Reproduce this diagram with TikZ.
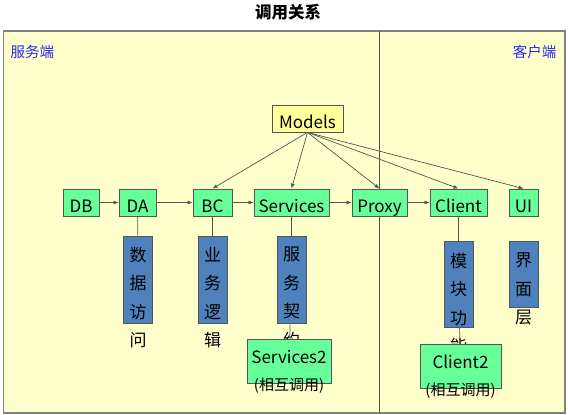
\documentclass[tikz,border=0pt]{standalone}
\usepackage{fontspec}
\setmainfont{Noto Sans CJK SC}
\usetikzlibrary{
    positioning,
    arrows.meta,
    calc
}
\definecolor{frameYellow}{RGB}{255, 255, 204}
\definecolor{modelYellow}{RGB}{255, 255, 153}
\definecolor{layerGreen}{RGB}{102, 255, 153}
\definecolor{noteBlue}{RGB}{79, 129, 189}
\definecolor{sideBlue}{RGB}{40, 40, 240}
\definecolor{lineGray}{RGB}{85, 85, 85}

\begin{document}
\begin{tikzpicture}[x=1pt, y=-1pt,
    layer/.style={draw=lineGray, fill=layerGreen, line width=0.8pt, inner sep=0pt,
        minimum height=27pt, text height=19.5pt, text depth=0pt, font=\fontsize{17}{18}\selectfont},
    note/.style={draw=lineGray, fill=noteBlue, line width=0.8pt, inner sep=0pt, minimum width=29pt},
    noteText/.style={inner sep=0pt, align=center, font=\fontsize{17}{28.5}\selectfont},
    link/.style={draw=lineGray, line width=0.7pt},
    call/.style={link, -{Latex[length=5pt, width=4pt]}}
]
        \useasboundingbox (0,0) rectangle (568,415);
        % 标题与背景
        \node[font=\bfseries\fontsize{16.5}{18}\selectfont] (title) at (288,12) {调用关系};
        \draw[fill=frameYellow, draw=gray, line width=1.2pt] (3.5,31) rectangle (565,413);
        \draw[lineGray, line width=1pt] (379.5,31) -- (379.5,413);
        \node[sideBlue, anchor=west, font=\fontsize{14.5}{16}\selectfont] (server) at (7,52) {服务端};
        \node[sideBlue, anchor=east, font=\fontsize{14.5}{16}\selectfont] (client) at (560,52) {客户端};
        
        % 各层
        \node[layer, fill=modelYellow, minimum width=71pt] (models) at (307.5,118.5) {Models};
        \node[layer, minimum width=36pt] (db) at (81,202.5) {DB};
        \node[layer, minimum width=37pt] (da) at (137.5,202.5) {DA};
        \node[layer, minimum width=39pt] (bc) at (212.5,202.5) {BC};
        \node[layer, minimum width=75pt] (services) at (291.5,202.5) {Services};
        \node[layer, minimum width=55pt] (proxy) at (379.5,202.5) {Proxy};
        \node[layer, minimum width=57pt] (clientLayer) at (458.5,202.5) {Client};
        \node[layer, minimum width=29pt] (ui) at (523.5,202.5) {UI};
        
        % 说明
        \node[note, minimum height=87pt] (daNote) at (138,279.5) {};
        \node[note, minimum height=87pt] (bcNote) at (212.5,279.5) {};
        \node[note, minimum height=87pt] (srvNote) at (291.5,279.5) {};
        \node[note, minimum height=86pt] (cliNote) at (458.5,284) {};
        \node[note, minimum height=66pt] (uiNote) at (523.5,274) {};
        \node[noteText] (daText) at (138,297.5) {数\\据\\访\\问};
        \node[noteText] (bcText) at (212.5,297.5) {业\\务\\逻\\辑};
        \node[noteText] (srvText) at (291.5,297.5) {服\\务\\契\\约};
        \node[noteText] (cliText) at (458.5,303.5) {模\\块\\功\\能};
        \node[noteText] (uiText) at (523.5,289) {界\\面\\层};
        
        \draw[link] (da) -- (daNote);
        \draw[link] (bc) -- (bcNote);
        \draw[link] (services) -- (srvNote);
        \draw[link] (clientLayer) -- (cliNote);
        
        % 相互调用
        \node[layer, minimum width=84pt, minimum height=44pt] (services2) at (289,361) {};
        \node[layer, minimum width=81pt, minimum height=44pt] (client2) at (460.5,366) {};
        \draw[link] (srvNote) -- (services2);
        \draw[link] (cliNote) -- (client2);
        \node[align=center, inner sep=0pt, font=\fontsize{15}{27}\selectfont] (services2Text) at (289,372)
            {\fontsize{17}{27}\selectfont Services2\\(相互调用)};
        \node[align=center, inner sep=0pt, font=\fontsize{15}{27}\selectfont] (client2Text) at (460.5,377)
            {\fontsize{17}{27}\selectfont Client2\\(相互调用)};
        
        % 调用箭头
        \draw[call] (db) -- (da);
        \draw[call] (da) -- (bc);
        \draw[call] (bc) -- (services);
        \draw[call] (services) -- (proxy);
        \draw[call] (proxy) -- (clientLayer);
        \foreach \target in {bc, services, proxy, clientLayer, ui}
            \draw[call] (models.south) -- (\target.north);
    \end{tikzpicture}
\end{document}
